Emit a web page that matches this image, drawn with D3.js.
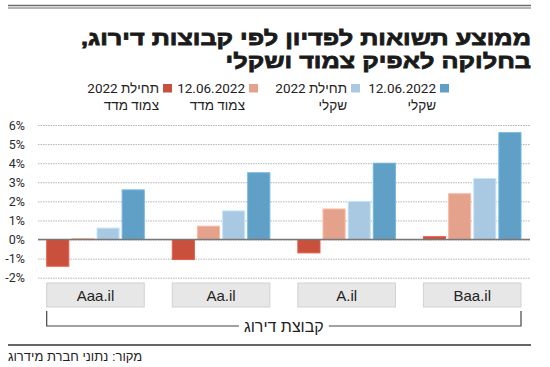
<!DOCTYPE html>
<html>
<head>
<meta charset="utf-8">
<script src="https://cdn.jsdelivr.net/npm/d3@7"></script>
<style>
  body { margin: 0; background: #fff; }
  svg { display: block; font-family: Roboto, "Liberation Sans", sans-serif; }
</style>
</head>
<body>
<script>
// rating groups, left to right as in the picture
const categories = ["Aaa.il", "Aa.il", "A.il", "Baa.il"];

// series (draw order left to right inside each group)
const seriesKeys = ["cpiStart", "cpiJune", "nomStart", "nomJune"];
const seriesLine1 = ["תחילת 2022", "12.06.2022", "תחילת 2022", "12.06.2022"];
const seriesLine2 = ["צמוד מדד", "צמוד מדד", "שקלי", "שקלי"];
const seriesColors = ["#c9503d", "#e4a18c", "#a9c8e1", "#609fc6"];

// average yield to maturity, %
const cpiStart = [-1.4, -1.05, -0.7, 0.15];
const cpiJune = [0.05, 0.7, 1.6, 2.4];
const nomStart = [0.6, 1.5, 2.0, 3.2];
const nomJune = [2.6, 3.5, 4.0, 5.6];

const yTicks = [-2, -1, 0, 1, 2, 3, 4, 5, 6];

const titleLines = ["ממוצע תשואות לפדיון לפי קבוצות דירוג,", "בחלוקה לאפיק צמוד ושקלי"];
const axisTitle = "קבוצת דירוג";
const source = "מקור: נתוני חברת מידרוג";

const values = { cpiStart, cpiJune, nomStart, nomJune };
const data = categories.map((c, i) => ({
  cat: c,
  vals: seriesKeys.map(k => ({ key: k, v: values[k][i] }))
}));

const w = 550, h = 367;
const svg = d3.select("body").append("svg")
  .attr("width", w)
  .attr("height", h);

// top double rule
svg.append("line").attr("x1", 8).attr("x2", 531).attr("y1", 5.5).attr("y2", 5.5)
  .attr("stroke", "#6b6b6b").attr("stroke-width", 1.6);
svg.append("line").attr("x1", 8).attr("x2", 531).attr("y1", 8).attr("y2", 8)
  .attr("stroke", "#6b6b6b").attr("stroke-width", 1);

// title - one text block, stretched sideways to get the heavy wide look
const titleG = svg.append("g");
const title = titleG.append("text")
  .attr("direction", "rtl").attr("text-anchor", "start")
  .style("font-family", "'Liberation Sans', 'DejaVu Sans', sans-serif")
  .style("font-weight", "bold")
  .style("font-size", "20.5px")
  .attr("fill", "#1a1a1a")
  .attr("stroke", "#1a1a1a")
  .attr("stroke-width", 0.8);
title.selectAll("tspan")
  .data(titleLines)
  .enter().append("tspan")
  .attr("x", 0)
  .attr("y", (d, i) => 45.5 + i * 22.5)
  .text(d => d);
const firstLen = title.select("tspan").node().getComputedTextLength();
titleG.attr("transform", `translate(531,0) scale(${450 / firstLen},1)`);

// scales
const x0 = d3.scaleBand()
  .domain(categories)
  .range([46.7, 521])
  .paddingInner(0.223)
  .paddingOuter(0);

const x1 = d3.scaleBand()
  .domain(seriesKeys)
  .range([0, x0.bandwidth()])
  .paddingInner(0.12);

const y = d3.scaleLinear()
  .domain([-2, 6])
  .range([277.7, 125]);

const color = d3.scaleOrdinal().domain(seriesKeys).range(seriesColors);

// y axis with dotted grid
const yAxis = svg.append("g")
  .attr("transform", "translate(38,0)")
  .call(d3.axisLeft(y)
    .tickValues(yTicks)
    .tickSize(-(530 - 38))
    .tickPadding(13)
    .tickFormat(d => d + "%"));
yAxis.select(".domain").remove();
yAxis.selectAll(".tick line")
  .attr("stroke", "#b5b5b5")
  .attr("stroke-dasharray", "1.5,1");
yAxis.selectAll(".tick text")
  .attr("fill", "#2a2a2a")
  .style("font-size", "12.5px")
  .style("font-family", "Roboto, sans-serif");

// bars
const groups = svg.selectAll(".group")
  .data(data)
  .enter().append("g")
  .attr("class", "group")
  .attr("transform", d => `translate(${x0(d.cat)},0)`);

groups.selectAll("rect")
  .data(d => d.vals)
  .enter().append("rect")
  .attr("x", d => x1(d.key))
  .attr("y", d => y(Math.max(0, d.v)))
  .attr("width", x1.bandwidth())
  .attr("height", d => Math.abs(y(d.v) - y(0)))
  .attr("fill", d => color(d.key))
  .attr("stroke", d => d3.color(color(d.key)).brighter(0.4))
  .attr("stroke-width", 1);

// zero line
svg.append("line")
  .attr("x1", 38).attr("x2", 530)
  .attr("y1", y(0)).attr("y2", y(0))
  .attr("stroke", "#777").attr("stroke-width", 1.5);

// category label boxes
const boxes = svg.selectAll(".catbox")
  .data(categories)
  .enter().append("g")
  .attr("class", "catbox")
  .attr("transform", d => `translate(${x0(d)},283)`);
boxes.append("rect")
  .attr("width", x0.bandwidth())
  .attr("height", 24)
  .attr("fill", "#e7e7e7")
  .attr("stroke", "#d2d2d2");
boxes.append("text")
  .attr("x", x0.bandwidth() / 2)
  .attr("y", 18)
  .attr("text-anchor", "middle")
  .attr("fill", "#222")
  .style("font-size", "15px")
  .style("font-family", "'Liberation Sans', sans-serif")
  .text(d => d);

// bracket under categories
const [bx0, bx1] = x0.range();
svg.append("path")
  .attr("d", `M${bx0},311V326H${bx1}V311`)
  .attr("fill", "none")
  .attr("stroke", "#444")
  .attr("stroke-width", 1.2);
const mid = (bx0 + bx1) / 2;
const atBg = svg.append("rect").attr("fill", "#fff");
const atText = svg.append("text")
  .attr("x", mid).attr("y", 332)
  .attr("text-anchor", "middle")
  .attr("fill", "#222")
  .style("font-size", "16px")
  .style("font-family", "'Liberation Sans', sans-serif")
  .text(axisTitle);
const bb = atText.node().getBBox();
atBg.attr("x", bb.x - 5).attr("y", 312)
  .attr("width", bb.width + 10).attr("height", 23);

// legend
const legendX = [163, 249, 351, 440];
const legend = svg.selectAll(".leg")
  .data(seriesKeys)
  .enter().append("g")
  .attr("class", "leg")
  .attr("transform", (d, i) => `translate(${legendX[i]},84)`);
legend.append("rect")
  .attr("width", 9).attr("height", 8.5)
  .attr("fill", d => color(d));
legend.append("text")
  .attr("x", -4).attr("y", 9)
  .attr("direction", "rtl").attr("text-anchor", "start")
  .attr("fill", "#222")
  .style("font-size", "13.5px")
  .text((d, i) => seriesLine1[i]);
legend.append("text")
  .attr("x", -4).attr("y", 26)
  .attr("direction", "rtl").attr("text-anchor", "start")
  .attr("fill", "#222")
  .style("font-size", "13.5px")
  .text((d, i) => seriesLine2[i]);

// bottom rule and source
svg.append("line").attr("x1", 8).attr("x2", 531).attr("y1", 345).attr("y2", 345)
  .attr("stroke", "#333").attr("stroke-width", 1.5);
svg.append("text")
  .attr("x", 8).attr("y", 361)
  .attr("direction", "rtl").attr("text-anchor", "end")
  .attr("fill", "#222")
  .style("font-size", "13px")
  .style("font-family", "'Liberation Sans', sans-serif")
  .text(source);
</script>
</body>
</html>
